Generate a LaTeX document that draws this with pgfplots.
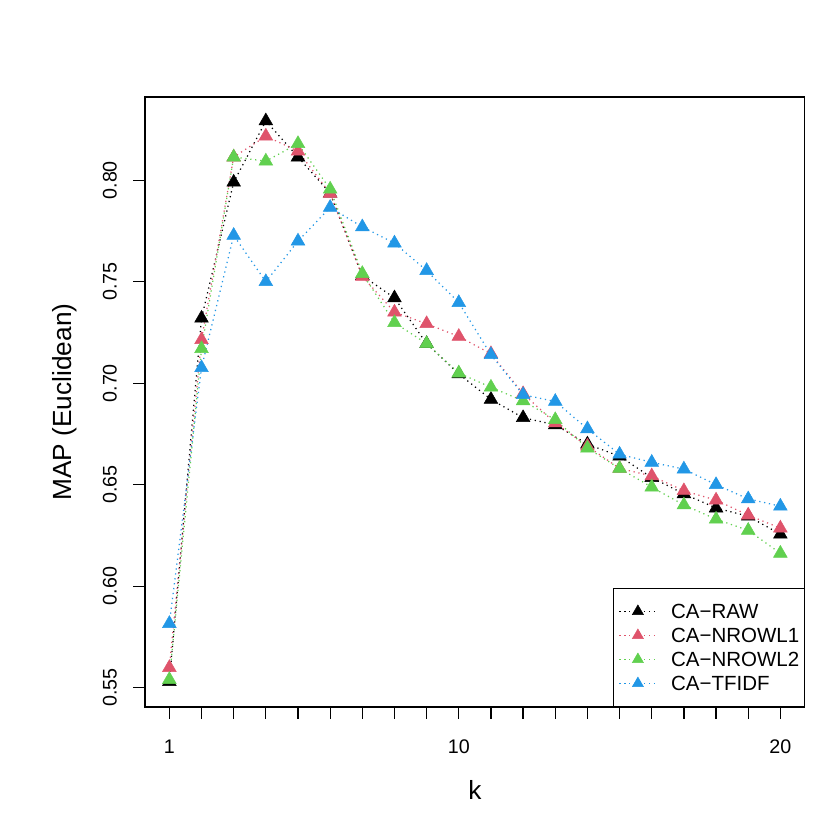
\documentclass[border=0pt]{standalone}
\usepackage{fontspec}
\setmainfont{Liberation Sans}
\usepackage{pgfplots}
\pgfplotsset{compat=1.18}
\definecolor{rred}{HTML}{DF536B}
\definecolor{rgreen}{HTML}{61D04F}
\definecolor{rblue}{HTML}{2297E6}

\pgfplotsset{
  rseries/.style={#1, line width=0.75bp, dash pattern=on 0.75bp off 2.25bp,
    mark=triangle*, mark size=4.8bp,
    mark options={solid, fill=#1, draw=#1, line width=0.3bp}},
}

\begin{document}
\begin{tikzpicture}
\path[use as bounding box] (0,0) rectangle (504bp,504bp);
\begin{axis}[
  at={(88bp,74.7bp)}, anchor=south west,
  scale only axis, width=400.7bp, height=370.4bp,
  xmin=0.24, xmax=20.76, ymin=0.5405, ymax=0.841,
  xtick={1,...,20},
  xticklabels={1,{},{},{},{},{},{},{},{},10,{},{},{},{},{},{},{},{},{},20},
  ytick={0.55,0.60,0.65,0.70,0.75,0.80},
  yticklabels={0.55,0.60,0.65,0.70,0.75,0.80},
  tick align=outside, tick pos=left, major tick length=7.2bp,
  axis line style={line width=0.75bp},
  every tick/.style={black, line width=0.75bp},
  font=\fontsize{12}{14.4}\selectfont,
  xticklabel style={anchor=north, inner sep=0pt, text height=8.6bp, text depth=0pt},
  yticklabel style={rotate=90, anchor=south, inner sep=0pt, text height=8.6bp, text depth=0pt},
  xticklabel shift=12.2bp, yticklabel shift=9.8bp,
  xlabel={k}, ylabel={MAP (Euclidean)},
  label style={font=\fontsize{16}{19}\selectfont},
  xlabel style={at={(axis description cs:0.5,-0.1361)}, anchor=center},
  ylabel style={at={(axis description cs:-0.1213,0.5)}, anchor=center, rotate=0},
  legend cell align=left,
  legend style={at={(1,0)}, anchor=south east, draw=black, line width=0.75bp,
    fill=white, inner xsep=3bp, inner ysep=9.4bp, row sep=5.6bp,
    font=\fontsize{12.5}{15}\selectfont,
    nodes={inner sep=0pt, text height=9bp, text depth=0pt}},
  legend image code/.code={
    \draw[mark repeat=2, mark phase=2, #1, mark size=3.9bp]
      plot coordinates {(0bp,0bp) (11.25bp,0bp) (22.5bp,0bp)};
    \path (31bp,0bp);
  },
]
\addplot[rseries=black] coordinates {
  (1,0.5530) (2,0.7320) (3,0.7990) (4,0.8292) (5,0.8114) (6,0.7936) (7,0.7530)
  (8,0.7420) (9,0.7195) (10,0.7046) (11,0.6920) (12,0.6830) (13,0.6795) (14,0.6700)
  (15,0.6640) (16,0.6535) (17,0.6455) (18,0.6385) (19,0.6345) (20,0.6256)};
\addlegendentry{CA−RAW}
\addplot[rseries=rred] coordinates {
  (1,0.5599) (2,0.7214) (3,0.8114) (4,0.8217) (5,0.8143) (6,0.7935) (7,0.7526)
  (8,0.7350) (9,0.7293) (10,0.7230) (11,0.7145) (12,0.6948) (13,0.6804) (14,0.6690)
  (15,0.6580) (16,0.6543) (17,0.6470) (18,0.6424) (19,0.6350) (20,0.6286)};
\addlegendentry{CA−NROWL1}
\addplot[rseries=rgreen] coordinates {
  (1,0.5540) (2,0.7170) (3,0.8114) (4,0.8094) (5,0.8180) (6,0.7956) (7,0.7540)
  (8,0.7298) (9,0.7195) (10,0.7050) (11,0.6980) (12,0.6913) (13,0.6820) (14,0.6680)
  (15,0.6580) (16,0.6488) (17,0.6400) (18,0.6330) (19,0.6275) (20,0.6162)};
\addlegendentry{CA−NROWL2}
\addplot[rseries=rblue] coordinates {
  (1,0.5816) (2,0.7076) (3,0.7728) (4,0.7500) (5,0.7700) (6,0.7866) (7,0.7770)
  (8,0.7690) (9,0.7555) (10,0.7397) (11,0.7140) (12,0.6943) (13,0.6910) (14,0.6775)
  (15,0.6650) (16,0.6610) (17,0.6577) (18,0.6500) (19,0.6430) (20,0.6394)};
\addlegendentry{CA−TFIDF}
\end{axis}
\end{tikzpicture}
\end{document}
